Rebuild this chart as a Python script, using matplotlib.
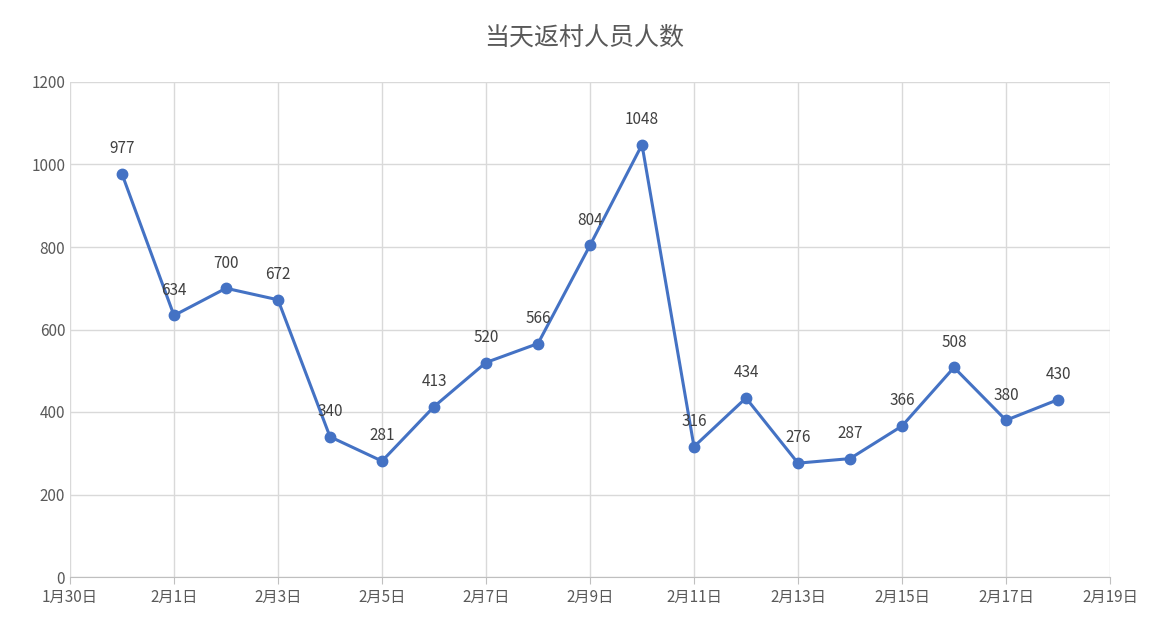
import matplotlib.pyplot as plt

plt.rcParams['font.family'] = ['Noto Sans CJK SC', 'DejaVu Sans']

# days counted from 1月30日
days = list(range(1, 20))
values = [977, 634, 700, 672, 340, 281, 413, 520, 566, 804, 1048,
          316, 434, 276, 287, 366, 508, 380, 430]
tick_days = list(range(0, 21, 2))
tick_labels = ['1月30日', '2月1日', '2月3日', '2月5日', '2月7日', '2月9日',
               '2月11日', '2月13日', '2月15日', '2月17日', '2月19日']

fig = plt.figure(figsize=(11.68, 6.29), dpi=100)
ax = fig.add_axes([70/1168, 1 - 577/629, 1040/1168, 495/629])

ax.plot(days, values, color='#4472C4', lw=2.2, marker='o', ms=7.5, zorder=3)
for d, v in zip(days, values):
    ax.annotate(str(v), (d, v), xytext=(0, 12), textcoords='offset points',
                ha='center', va='bottom', fontsize=11, color='#404040')

ax.set_xlim(0, 20)
ax.set_ylim(0, 1200)
ax.set_yticks(range(0, 1201, 200))
ax.set_xticks(tick_days)
ax.set_xticklabels(tick_labels)
ax.tick_params(colors='#595959', labelsize=11, length=0)
ax.tick_params(axis='x', length=5, color='#BFBFBF', direction='out')
ax.grid(True, color='#D9D9D9', lw=1)
ax.set_axisbelow(True)
for s in ['top', 'right', 'left']:
    ax.spines[s].set_visible(False)
ax.spines['bottom'].set_color('#BFBFBF')

fig.text(0.5, 1 - 38/629, '当天返村人员人数', ha='center', va='center',
         fontsize=18, color='#595959')
fig.savefig('out.png', dpi=100)
